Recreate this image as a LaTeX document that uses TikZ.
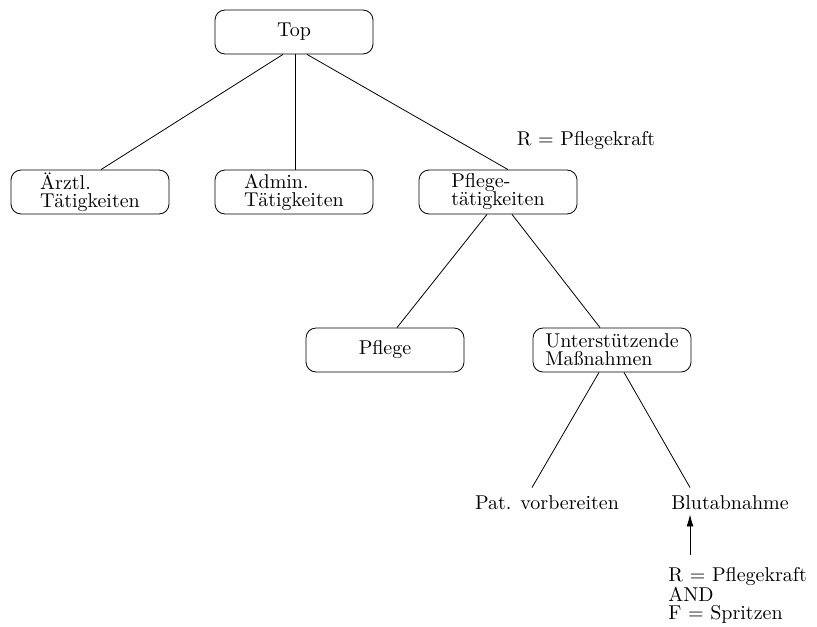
\documentclass[tikz,border=0pt]{standalone}
\usepackage{fontspec}
\usetikzlibrary{shapes,arrows.meta}

\begin{document}
\begin{tikzpicture}[x=0.5pt,y=-0.5pt]
\tikzstyle{every node}=[font=\fontsize{10}{9}\selectfont\addfontfeatures{LetterSpace=2},align=left]
\tikzstyle{task}=[rectangle,draw,rounded corners=5pt,inner ysep=1pt,minimum width=79pt,minimum height=22pt]
\tikzstyle{leaf}=[rectangle,inner sep=2pt]

\useasboundingbox (0,0) rectangle (817,626);

\node[task] (top) at (294,32) {Top};
\node[task] (aerztl) at (90,192) {Ärztl.\\Tätigkeiten};
\node[task] (admin) at (294,192) {Admin.\\Tätigkeiten};
\node[task] (pflegetaet) at (498,192) {Pflege-\\tätigkeiten};
\node[leaf] (rolle) at (586,141) {R = Pflegekraft};

\node[task] (pflege) at (385,350) {Pflege};
\node[task] (unterst) at (612,350) {Unterstützende\\Maßnahmen};

\node[leaf] (pat) at (547,503) {Pat. vorbereiten};
\node[leaf] (blut) at (730,503) {Blutabnahme};
\node[leaf,anchor=north west] (bed) at (664,563) {R = Pflegekraft\\AND\\F = Spritzen};

\draw ([xshift=-5.5pt]top.south) -- ([xshift=5.5pt]aerztl.north);
\draw ([xshift=0.5pt]top.south) -- ([xshift=0.5pt]admin.north);
\draw ([xshift=6.5pt]top.south) -- ([xshift=5pt]pflegetaet.north);
\draw ([xshift=-5.5pt]pflegetaet.south) -- ([xshift=6pt]pflege.north);
\draw ([xshift=7pt]pflegetaet.south) -- ([xshift=-6pt]unterst.north);
\draw ([xshift=-6.5pt]unterst.south) -- ([xshift=-7.5pt,yshift=2pt]pat.north);
\draw ([xshift=6pt]unterst.south) -- ([xshift=-20pt,yshift=2pt]blut.north);

\coordinate (pfeil) at (690,555);
\draw[-{Latex[length=6pt,width=3.5pt]}] (pfeil) -- (pfeil |- blut.south);
\end{tikzpicture}
\end{document}
